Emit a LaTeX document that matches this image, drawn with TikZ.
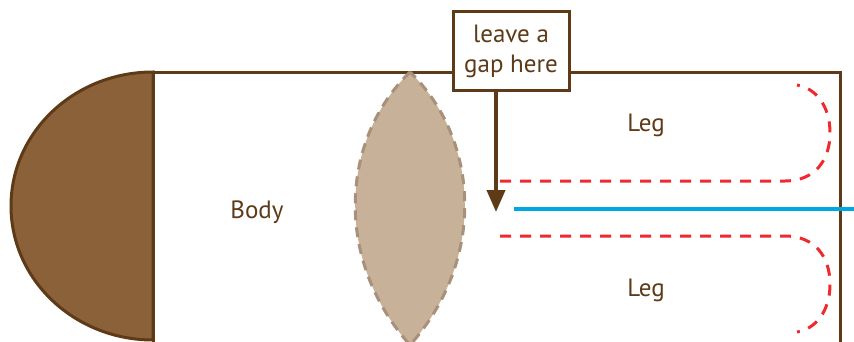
\documentclass[tikz,border=0pt]{standalone}
\usepackage{fontspec}
\setmainfont{PT Sans}
\usetikzlibrary{arrows.meta}
\definecolor{brownline}{HTML}{5E3A17}
\definecolor{brownfill}{HTML}{8B6139}
\definecolor{lensfill}{HTML}{C8B199}
\definecolor{lensline}{HTML}{A8907A}
\definecolor{redcut}{HTML}{EE2A30}
\definecolor{bluefold}{HTML}{00A8E2}
\tikzset{
  outline/.style={draw=brownline, line width=3pt},
  cutline/.style={draw=redcut, line width=3pt, dash pattern=on 11pt off 9pt},
  label/.style={text=brownline, font=\fontsize{25}{30}\selectfont},
}
\begin{document}
\begin{tikzpicture}[x=1pt,y=-1pt]
\useasboundingbox (0,0) rectangle (854,341);
% head
\path[fill=brownfill, draw=brownline, line width=3pt] (153,72) arc[start angle=-90, end angle=-270, x radius=142, y radius=134] -- cycle;
% body outline
\draw[outline] (153,345) -- (153,72) -- (840,72) -- (840,345);
% lens
\path[fill=lensfill, draw=lensline, line width=3pt, dash pattern=on 10pt off 7pt]
  (410,72) .. controls (340,140) and (334,260) .. (410,345) .. controls (486,260) and (480,140) .. (410,72) -- cycle;
% cut lines
\draw[cutline] (500,181) -- (785,181) .. controls (815,181) and (830,160) .. (830,133) .. controls (830,105) and (815,88) .. (797,85);
\draw[cutline] (500,236) -- (785,236) .. controls (815,236) and (830,257) .. (830,284) .. controls (830,312) and (815,329) .. (797,332);
% fold line
\coordinate (f1) at (514,209);
\coordinate (f2) at (854,209);
\draw[draw=bluefold, line width=4pt] (f1) -- (f2);
% labels
\node[label] (body) at (257,212) {Body};
\node[label] (leg1) at (646,125) {Leg};
\node[label] (leg2) at (646,290) {Leg};
\node[label, draw=brownline, fill=white, line width=3pt, align=center, minimum width=116pt, minimum height=79pt, inner sep=2pt, font=\fontsize{25}{30}\selectfont] (note) at (511,51) {leave a\\gap here};
\coordinate (tip) at (496,212);
\draw[draw=brownline, line width=4pt, -{Triangle[length=22pt,width=18pt]}] (note.south -| tip) -- (tip);
\end{tikzpicture}
\end{document}
